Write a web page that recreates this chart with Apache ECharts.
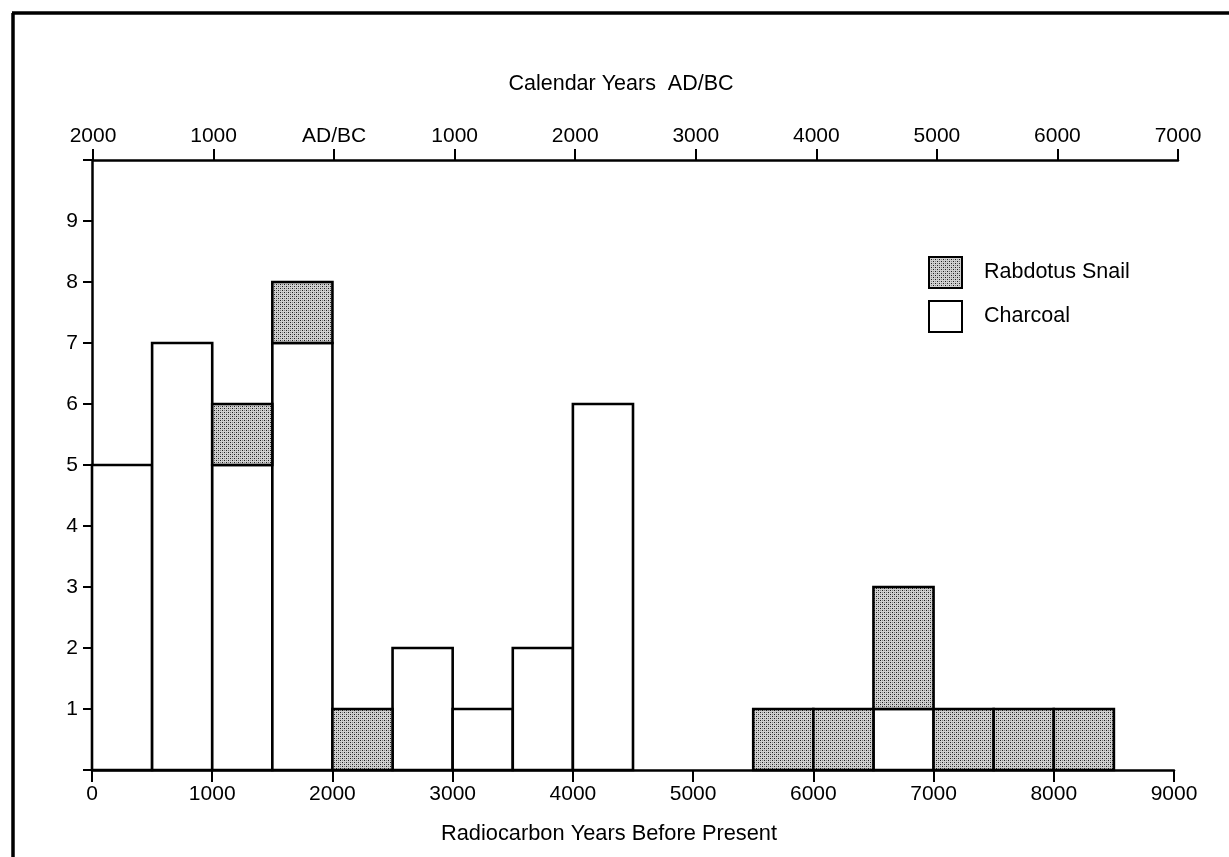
<!DOCTYPE html>
<html>
<head>
<meta charset="utf-8">
<title>Radiocarbon dates histogram</title>
<script src="https://cdn.jsdelivr.net/npm/echarts@6/dist/echarts.min.js"></script>
<style>
  html, body { margin: 0; padding: 0; background: #fff; }
  #chart { width: 1229px; height: 857px; }
</style>
</head>
<body>
<div id="chart"></div>
<script>
// Histogram bins: 500-year radiocarbon intervals (start of each bin, years BP)
const binStarts = [0, 500, 1000, 1500, 2000, 2500, 3000, 3500, 4000, 4500, 5000, 5500, 6000, 6500, 7000, 7500, 8000];
const binWidth = 500;
// Number of dates per bin
const charcoal = [5, 7, 5, 7, 0, 2, 1, 2, 6, 0, 0, 0, 0, 1, 0, 0, 0];
const snail    = [0, 0, 1, 1, 1, 0, 0, 0, 0, 0, 0, 1, 1, 2, 1, 1, 1];
// Upper scale: calendar years (AD values negative, BC positive)
const calTicks  = [-2000, -1000, 0, 1000, 2000, 3000, 4000, 5000, 6000, 7000];
const calLabels = ['2000', '1000', 'AD/BC', '1000', '2000', '3000', '4000', '5000', '6000', '7000'];

const FONT = "'Liberation Sans', Arial, Helvetica, sans-serif";

// stippled fill used for the snail shells
function stipple() {
  const c = document.createElement('canvas');
  c.width = 4; c.height = 4;
  const g = c.getContext('2d');
  g.fillStyle = '#d0d0d0';
  g.fillRect(0, 0, 4, 4);
  g.fillStyle = '#1e1e1e';
  g.fillRect(0, 0, 1, 1);
  g.fillRect(2, 2, 1, 1);
  g.fillStyle = '#848484';
  g.fillRect(2, 0, 1, 1);
  g.fillRect(0, 2, 1, 1);
  return c;
}
const snailFill = { image: stipple(), repeat: 'repeat' };

// stacked rectangles [start, end, low, high]
const charcoalRects = [];
const snailRects = [];
binStarts.forEach((s, i) => {
  if (charcoal[i] > 0) charcoalRects.push([s, s + binWidth, 0, charcoal[i]]);
  if (snail[i] > 0) snailRects.push([s, s + binWidth, charcoal[i], charcoal[i] + snail[i]]);
});

function binRenderer(fill) {
  return function (params, api) {
    const p0 = api.coord([api.value(0), api.value(3)]);
    const p1 = api.coord([api.value(1), api.value(2)]);
    return {
      type: 'rect',
      shape: { x: p0[0], y: p0[1], width: p1[0] - p0[0], height: p1[1] - p0[1] },
      style: { fill: fill, stroke: '#000', lineWidth: 2.6 }
    };
  };
}

const chart = echarts.init(document.getElementById('chart'), null, { renderer: 'canvas' });

const axisText = { color: '#000', fontSize: 21, fontFamily: FONT };
const axisLine = { show: true, onZero: false, lineStyle: { color: '#000', width: 2.5 } };
const axisTick = (len) => ({ show: true, inside: false, length: len, lineStyle: { color: '#000', width: 2 } });

chart.setOption({
  animation: false,
  backgroundColor: '#fff',
  grid: [
    { left: 92, right: 55, top: 160, bottom: 87 },
    { left: 93, right: 51, top: 160, bottom: 87 }
  ],
  xAxis: [
    {
      gridIndex: 0, type: 'value', position: 'bottom',
      min: 0, max: 9000, interval: 1000,
      axisLine: axisLine, axisTick: axisTick(12),
      axisLabel: Object.assign({ margin: 14, formatter: (v) => String(v) }, axisText),
      splitLine: { show: false }
    },
    {
      gridIndex: 1, type: 'value', position: 'top',
      min: calTicks[0], max: calTicks[calTicks.length - 1], interval: 1000,
      axisLine: axisLine, axisTick: axisTick(11),
      axisLabel: Object.assign({
        margin: 13,
        formatter: (v) => calLabels[calTicks.indexOf(v)] || ''
      }, axisText),
      splitLine: { show: false }
    }
  ],
  yAxis: [
    {
      gridIndex: 0, type: 'value', min: 0, max: 10, interval: 1,
      axisLine: axisLine, axisTick: axisTick(9),
      axisLabel: Object.assign({
        margin: 14,
        formatter: (v) => (v >= 1 && v <= 9 ? String(v) : '')
      }, axisText),
      splitLine: { show: false }
    },
    { gridIndex: 1, type: 'value', show: false, min: 0, max: 10 }
  ],
  legend: {
    orient: 'vertical',
    left: 928, top: 256,
    itemWidth: 33, itemHeight: 31, itemGap: 11,
    padding: 0,
    icon: 'rect',
    selectedMode: false,
    textStyle: { color: '#000', fontSize: 21.5, fontFamily: FONT, padding: [0, 0, 0, 17] },
    data: [
      { name: 'Rabdotus Snail', itemStyle: { color: snailFill, borderColor: '#000', borderWidth: 2 } },
      { name: 'Charcoal', itemStyle: { color: '#fff', borderColor: '#000', borderWidth: 2 } }
    ]
  },
  series: [
    {
      name: 'Charcoal', type: 'custom', xAxisIndex: 0, yAxisIndex: 0,
      itemStyle: { color: '#fff', borderColor: '#000', borderWidth: 2 },
      encode: { x: [0, 1], y: [2, 3] },
      renderItem: binRenderer('#fff'),
      data: charcoalRects, z: 3
    },
    {
      name: 'Rabdotus Snail', type: 'custom', xAxisIndex: 0, yAxisIndex: 0,
      itemStyle: { color: snailFill, borderColor: '#000', borderWidth: 2 },
      encode: { x: [0, 1], y: [2, 3] },
      renderItem: binRenderer(snailFill),
      data: snailRects, z: 3
    }
  ],
  graphic: [
    // page frame
    { type: 'line', shape: { x1: 13, y1: 13, x2: 13, y2: 857 }, style: { stroke: '#000', lineWidth: 3.5 } },
    { type: 'line', shape: { x1: 12, y1: 13, x2: 1229, y2: 13 }, style: { stroke: '#000', lineWidth: 3.5 } },
    {
      type: 'text', x: 621, y: 84,
      style: { text: 'Calendar Years  AD/BC', fill: '#000', font: '21.5px ' + FONT, textAlign: 'center', textVerticalAlign: 'middle' }
    },
    {
      type: 'text', x: 609, y: 834,
      style: { text: 'Radiocarbon Years Before Present', fill: '#000', font: '21.8px ' + FONT, textAlign: 'center', textVerticalAlign: 'middle' }
    }
  ]
});
</script>
</body>
</html>
